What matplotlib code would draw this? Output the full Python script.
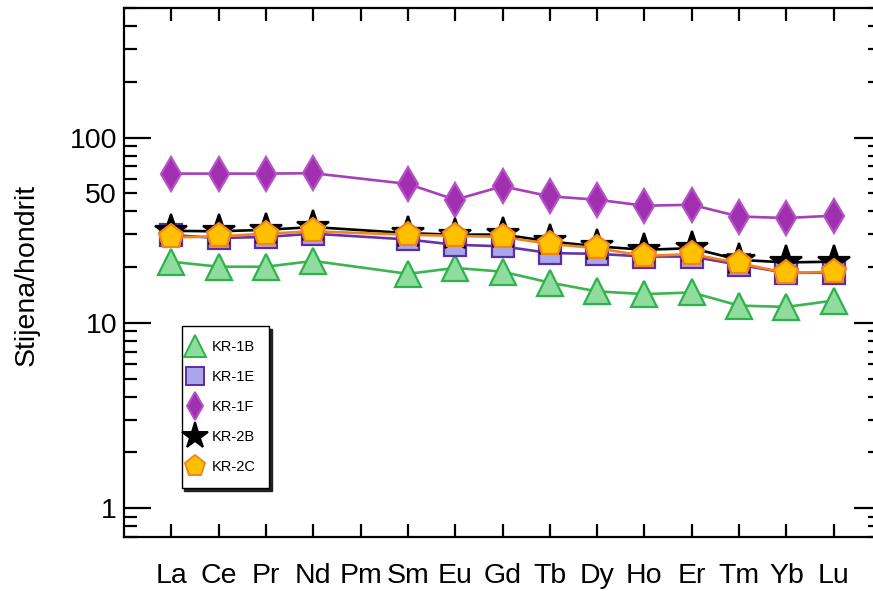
import numpy as np
import matplotlib
matplotlib.use("Agg")
import matplotlib.pyplot as plt
from matplotlib.lines import Line2D
from matplotlib.ticker import FixedLocator, FixedFormatter

plt.rcParams['font.family'] = ['Liberation Sans', 'DejaVu Sans']

# REE pattern, chondrite normalised (Pm not measured)
elements = ['La', 'Ce', 'Pr', 'Nd', 'Pm', 'Sm', 'Eu', 'Gd', 'Tb', 'Dy', 'Ho', 'Er', 'Tm', 'Yb', 'Lu']
nan = np.nan

kr_1b = [21.4, 20.1, 20.1, 21.6, nan, 18.4, 19.8, 18.9, 16.5, 14.8, 14.3, 14.6, 12.4, 12.2, 13.2]
kr_1e = [29.8, 28.7, 29.1, 30.3, nan, 28.2, 26.4, 25.9, 23.8, 23.6, 22.8, 22.8, 20.6, 18.6, 18.7]
kr_1f = [63.9, 63.9, 63.9, 64.2, nan, 56.2, 46.2, 54.6, 48.2, 46.2, 42.9, 43.4, 37.5, 36.8, 37.9]
kr_2b = [31.4, 31.2, 31.8, 32.9, nan, 30.5, 29.9, 30.0, 27.5, 25.9, 24.8, 25.3, 21.9, 21.2, 21.4]
kr_2c = [28.9, 29.3, 30.3, 31.2, nan, 29.9, 29.5, 29.1, 26.7, 25.3, 23.0, 23.5, 21.0, 18.6, 18.9]

sample_names = ['KR-1B', 'KR-1E', 'KR-1F', 'KR-2B', 'KR-2C']

# marker, size, face, edge, line colour
styles = [
    ('^', 19, '#8FDC9E', '#2DB34A', '#3BB54F'),
    ('s', 16, '#A9A6EA', '#5E2CA5', '#6633AA'),
    ('d', 17.5, '#A030B0', '#B452C6', '#A540B8'),
    ('*', 24, 'black', 'black', 'black'),
    ('p', 18.5, '#FFC000', '#F0851E', '#EE8420'),
]

fig = plt.figure(figsize=(8.73, 5.91), dpi=100)
# right spine sits just outside the picture in the reference
ax = fig.add_axes([124 / 873, 1 - 537 / 591, 757 / 873, 529 / 591])

x = np.arange(1, len(elements) + 1)
handles = []
for name, vals, (mk, ms, fc, ec, lc) in zip(sample_names, [kr_1b, kr_1e, kr_1f, kr_2b, kr_2c], styles):
    v = np.array(vals, dtype=float)
    ok = ~np.isnan(v)
    ax.plot(x[ok], v[ok], color=lc, linewidth=1.9, marker=mk, markersize=ms,
            markerfacecolor=fc, markeredgecolor=ec, markeredgewidth=1.6)
    handles.append(Line2D([], [], linestyle='none', marker=mk, markersize=ms * 0.82,
                          markerfacecolor=fc, markeredgecolor=ec, markeredgewidth=1.4, label=name))

ax.set_yscale('log')
ax.set_ylim(0.7, 500)
ax.set_xlim(0, 16)

ax.set_xticks(x)
ax.set_xticklabels(elements)
ax.yaxis.set_major_locator(FixedLocator([1, 10, 100]))
ax.yaxis.set_major_formatter(FixedFormatter(['1', '10', '100']))
minor = [m * 10.0 ** e for e in (-1, 0, 1, 2) for m in range(2, 10)]
minor = [t for t in minor if 0.7 <= t <= 500]
ax.yaxis.set_minor_locator(FixedLocator(minor))
ax.yaxis.set_minor_formatter(FixedFormatter(['50' if abs(t - 50) < 1e-6 else '' for t in minor]))

ax.tick_params(axis='both', which='both', direction='in', top=True, right=True, width=1.6)
ax.tick_params(axis='x', which='major', length=9.5, labelsize=20.5, pad=19)
ax.tick_params(axis='x', which='minor', length=0)
ax.tick_params(axis='y', which='major', length=19.5, labelsize=20.5, pad=5)
ax.tick_params(axis='y', which='minor', length=9.5, labelsize=20.5, pad=5)
for s in ax.spines.values():
    s.set_linewidth(1.6)

ax.set_ylabel('Stijena/hondrit', fontsize=20.5)
ax.yaxis.set_label_coords(-0.112, 0.496)

leg = ax.legend(handles=handles, loc='lower left', bbox_to_anchor=(0.076, 0.092),
                fontsize=10.5, frameon=True, fancybox=False, handlelength=0.0,
                handletextpad=1.1, labelspacing=1.1, borderpad=0.95, borderaxespad=0,
                shadow={'color': '#222222', 'alpha': 1})
leg.get_frame().set_edgecolor('black')
leg.get_frame().set_linewidth(1.0)

fig.savefig('out.png', dpi=100)
